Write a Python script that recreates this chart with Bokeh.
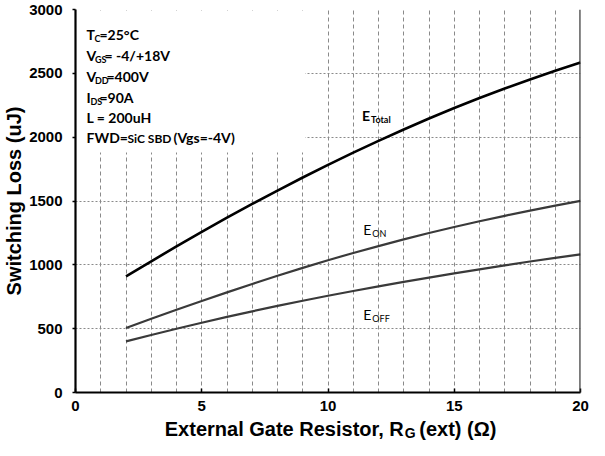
from bokeh.plotting import figure
from bokeh.layouts import column
from bokeh.models import Range1d, FixedTicker, Label, Span, BoxAnnotation, SingleIntervalTicker
from bokeh.embed import file_html
from bokeh.resources import INLINE

# Data
rg = [2, 3, 4, 5, 6, 7, 8, 9, 10, 11, 12, 13, 14, 15, 16, 17, 18, 19, 20]
e_total = [910, 1028, 1144, 1258, 1369, 1477, 1582, 1684, 1783, 1879, 1971, 2060, 2146, 2229, 2307, 2381, 2452, 2520, 2585]
e_on = [505, 577, 648, 717, 784, 850, 914, 976, 1036, 1093, 1147, 1199, 1249, 1296, 1341, 1384, 1425, 1464, 1501]
e_off = [400, 450, 499, 546, 592, 636, 678, 719, 758, 795, 831, 866, 900, 933, 965, 996, 1026, 1055, 1082]
x_ticks = [0, 5, 10, 15, 20]
y_ticks = [0, 500, 1000, 1500, 2000, 2500, 3000]

TICK_FONT = "Liberation Sans"
NOTE_FONT = "Lato"
LEFT, RIGHT = 73, 9

p = figure(width=589, height=417, output_backend="svg", toolbar_location=None,
           x_range=Range1d(0, 20), y_range=Range1d(0, 3000),
           min_border_left=LEFT, min_border_right=RIGHT, min_border_top=9, min_border_bottom=25)
p.outline_line_color = None
p.background_fill_color = "white"

p.xgrid.ticker = SingleIntervalTicker(interval=1)
p.xgrid.grid_line_color = "#8a8a8a"
p.xgrid.grid_line_dash = "4 3"
p.xgrid.grid_line_width = 1
p.ygrid.ticker = FixedTicker(ticks=y_ticks)
p.ygrid.grid_line_color = "#8a8a8a"
p.ygrid.grid_line_dash = "2 2"
p.ygrid.grid_line_width = 1.2

p.xaxis.ticker = FixedTicker(ticks=x_ticks)
p.yaxis.ticker = FixedTicker(ticks=y_ticks)
for ax in (p.xaxis, p.yaxis):
    ax.axis_line_color = "black"
    ax.axis_line_width = 2.2
    ax.major_tick_line_color = "black"
    ax.major_tick_line_width = 1.5
    ax.minor_tick_line_color = None
    ax.major_label_text_font = TICK_FONT
    ax.major_label_text_font_style = "bold"
    ax.major_label_text_font_size = "15px"
    ax.major_label_text_color = "black"
p.xaxis.major_tick_in = 4
p.xaxis.major_tick_out = 0
p.xaxis.major_label_standoff = 8
p.yaxis.major_tick_in = 0
p.yaxis.major_tick_out = 3
p.yaxis.major_label_standoff = 10
p.yaxis.axis_label = "Switching Loss (uJ)"
p.yaxis.axis_label_text_font = TICK_FONT
p.yaxis.axis_label_text_font_style = "bold"
p.yaxis.axis_label_text_font_size = "20px"
p.yaxis.axis_label_text_color = "black"
p.yaxis.axis_label_standoff = 1

p.add_layout(Span(location=20, dimension="height", line_color="#222222", line_width=2.2))
p.add_layout(BoxAnnotation(left=0, right=9.1, bottom=1880, top=2990,
                           fill_color="white", fill_alpha=1.0, line_color=None, level="glyph"))

p.line(rg, e_total, line_color="black", line_width=2.6)
p.line(rg, e_on, line_color="#3a3a3a", line_width=2.2)
p.line(rg, e_off, line_color="#3a3a3a", line_width=2.2)

def lab(fig, x, y, text, xo, yo, size, bold=True, align="left", font=NOTE_FONT, baseline="middle"):
    fig.add_layout(Label(x=x, y=y, x_offset=xo, y_offset=yo, text=text,
                         text_font=font, text_font_size=f"{size}px",
                         text_font_style="bold" if bold else "normal",
                         text_color="black", text_align=align, text_baseline=baseline))

M, S = 14, 9
lab(p, 0, 3000, "T", 11, -25, M); lab(p, 0, 3000, "C", 19, -29, S); lab(p, 0, 3000, "=25°C", 24, -25, M)
lab(p, 0, 3000, "V", 11, -46, M); lab(p, 0, 3000, "GS", 19.5, -50, S); lab(p, 0, 3000, "= -4/+18V", 29, -46, M)
lab(p, 0, 3000, "V", 11, -67, M); lab(p, 0, 3000, "DD", 19.5, -71, S); lab(p, 0, 3000, "=400V", 31, -67, M)
lab(p, 0, 3000, "I", 11, -88, M); lab(p, 0, 3000, "DS", 15, -92, S); lab(p, 0, 3000, "=90A", 24, -88, M)
lab(p, 0, 3000, "L = 200uH", 11, -108, M)
lab(p, 0, 3000, "FWD=", 11, -128, M); lab(p, 0, 3000, "SiC SBD", 52, -129, 12); lab(p, 0, 3000, "(Vgs=-4V)", 98, -128, M)

lab(p, 11.35, 2170, "E", 0, 0, M); lab(p, 11.35, 2170, "Total", 9, -4, S)
lab(p, 11.4, 1277, "E", 0, 0, M, bold=False); lab(p, 11.4, 1277, "ON", 9, -4, S, bold=False)
lab(p, 11.4, 610, "E", 0, 0, M, bold=False); lab(p, 11.4, 610, "OFF", 9, -4, S, bold=False)

# x axis title (with subscript) in a strip below, sharing the x mapping
t = figure(width=589, height=23, output_backend="svg", toolbar_location=None,
           x_range=p.x_range, y_range=Range1d(0, 23), x_axis_type=None, y_axis_type=None,
           min_border_left=LEFT, min_border_right=RIGHT, min_border_top=0, min_border_bottom=0)
t.outline_line_color = None
t.xgrid.visible = False
t.ygrid.visible = False
XL = 13.0
lab(t, XL, 11.5, "External Gate Resistor, R", 0, 0, 20, align="right", font=TICK_FONT)
lab(t, XL, 11.5, "G", 1, -4, 14, font=TICK_FONT)
lab(t, XL, 11.5, "(ext) (\u03a9)", 15.5, 0, 20, font=TICK_FONT)

open("out.html", "w").write(file_html(column(p, t), INLINE))
